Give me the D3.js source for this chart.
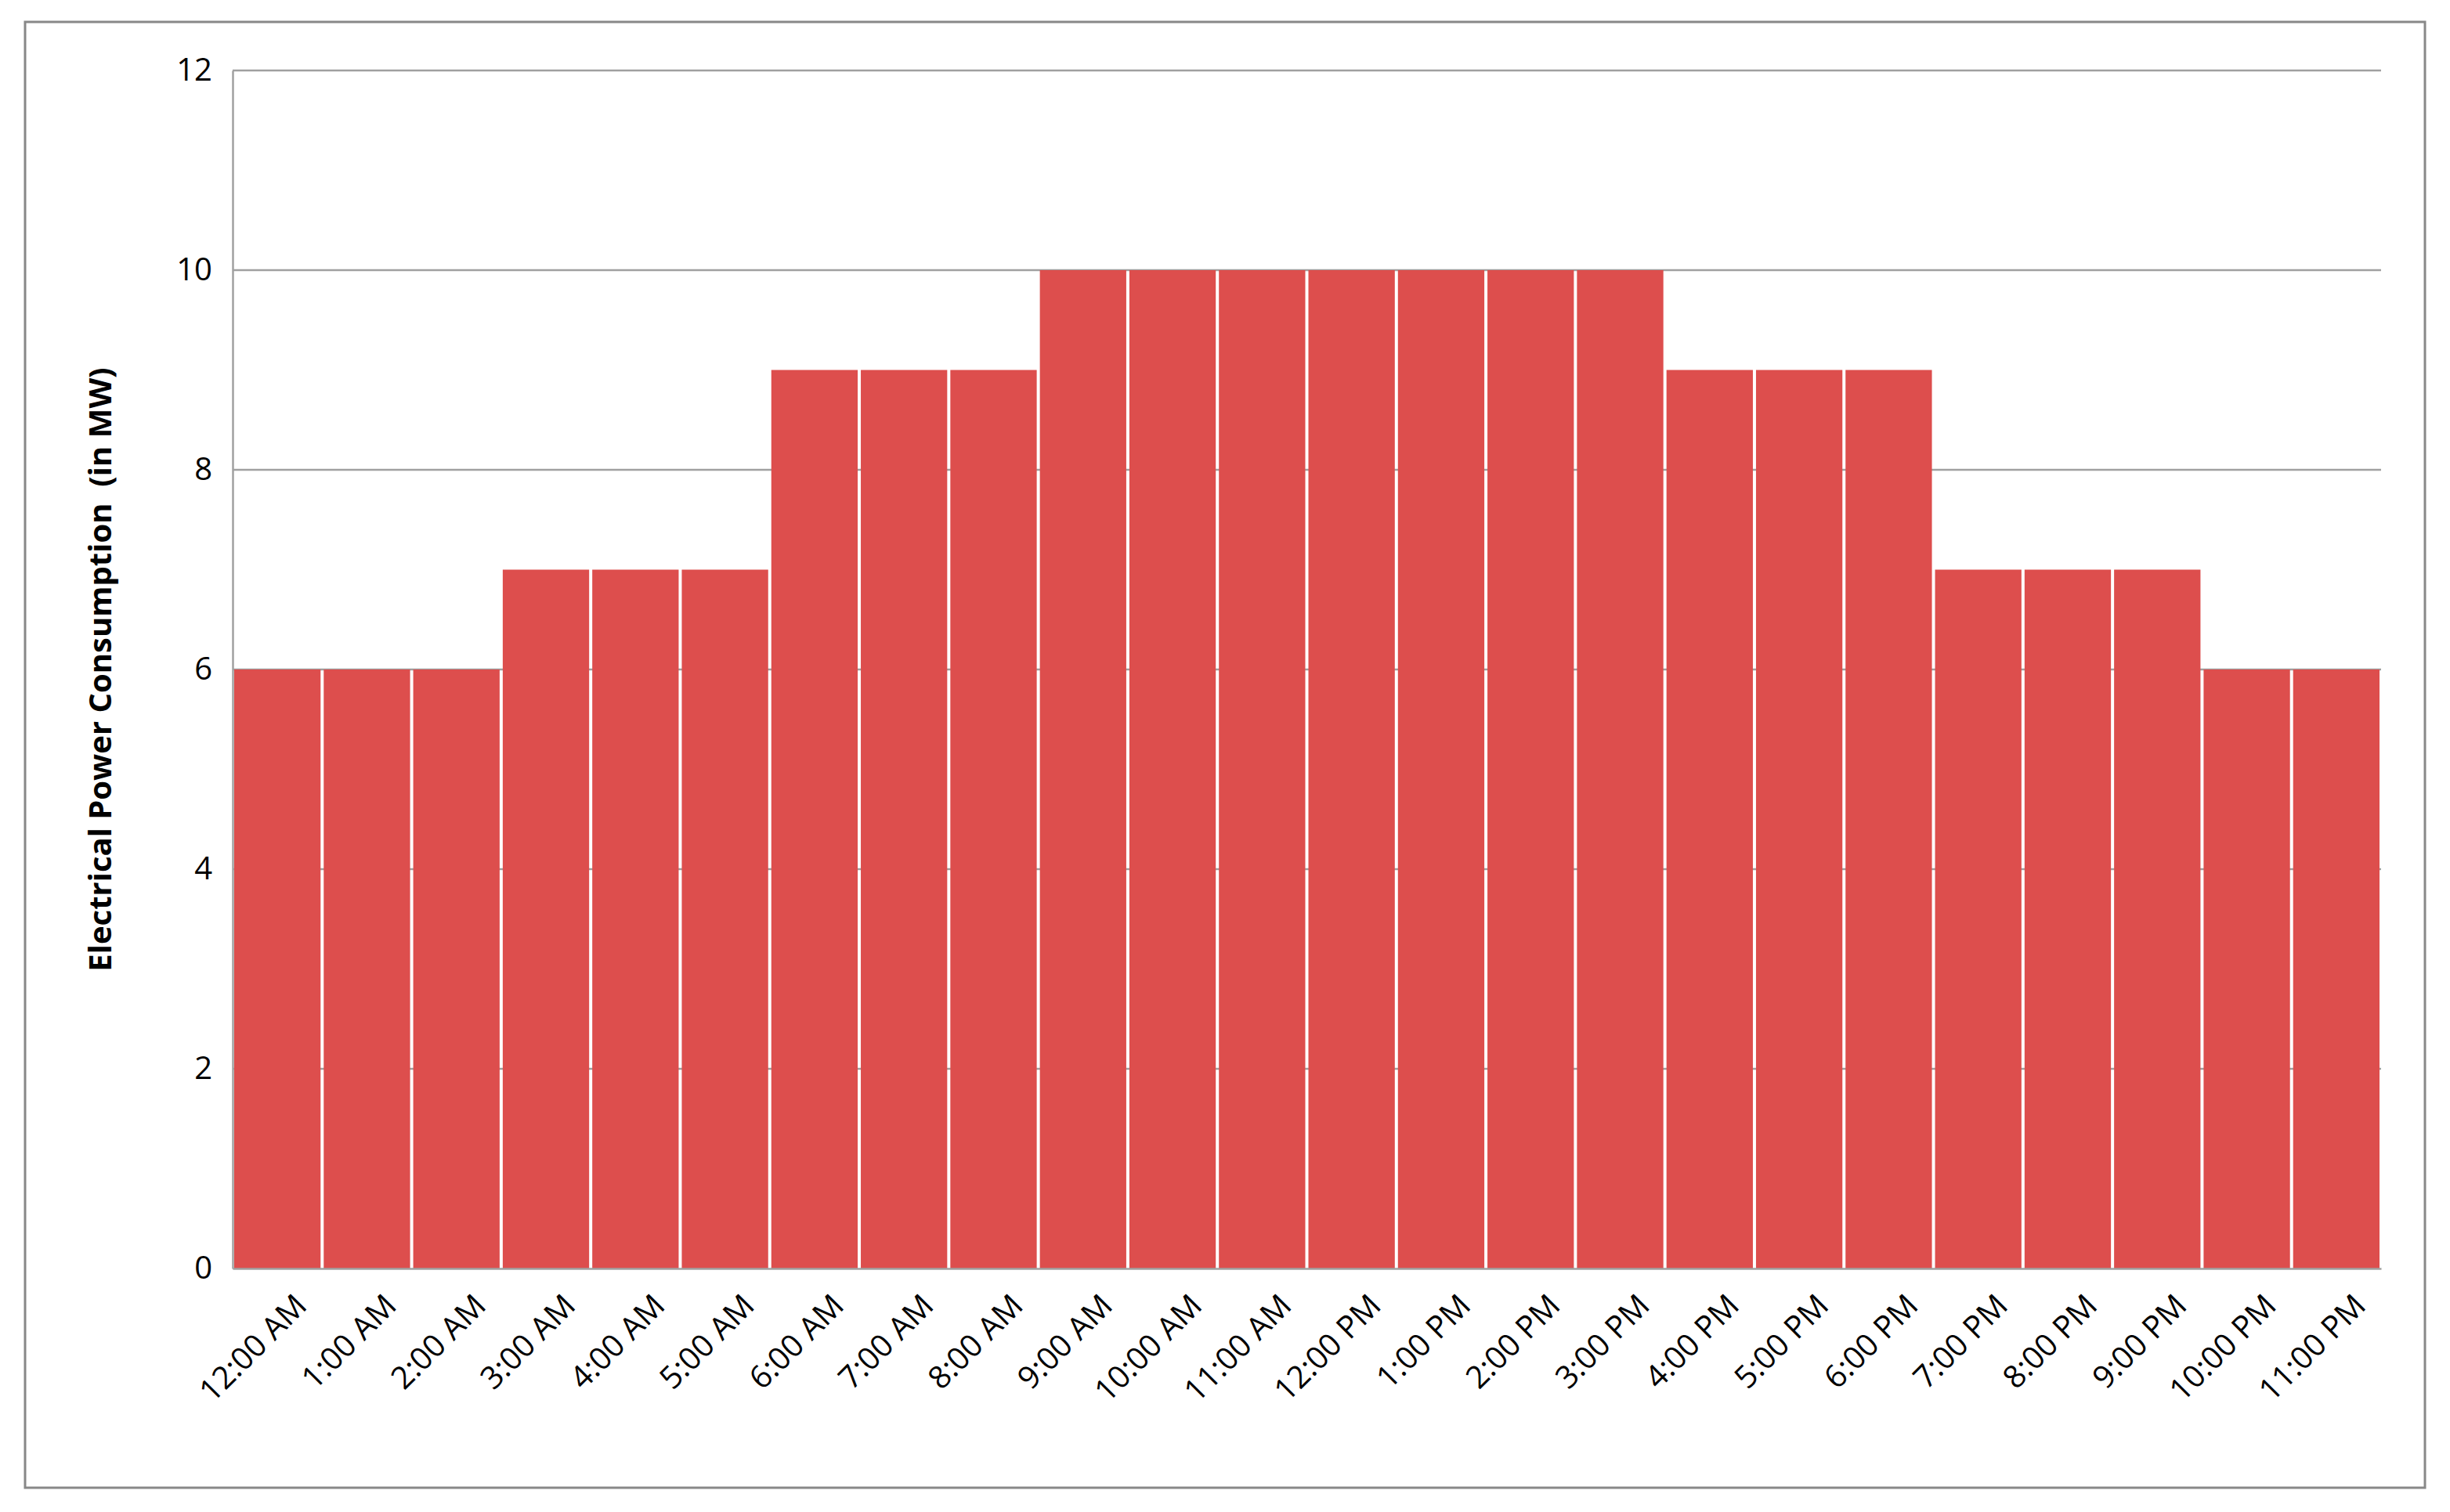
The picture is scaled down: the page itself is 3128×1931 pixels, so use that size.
<!DOCTYPE html>
<html>
<head>
<meta charset="utf-8">
<script src="https://cdn.jsdelivr.net/npm/d3@7"></script>
<style>
  body { margin: 0; background: #fff; }
  text { font-family: "Open Sans", "Liberation Sans", sans-serif; fill: #000; }
</style>
</head>
<body>
<div id="chart"></div>
<script>
// hours of the day
var hours = ["12:00 AM","1:00 AM","2:00 AM","3:00 AM","4:00 AM","5:00 AM","6:00 AM","7:00 AM","8:00 AM",
  "9:00 AM","10:00 AM","11:00 AM","12:00 PM","1:00 PM","2:00 PM","3:00 PM","4:00 PM","5:00 PM","6:00 PM",
  "7:00 PM","8:00 PM","9:00 PM","10:00 PM","11:00 PM"];
// consumption in MW
var consumption = [6,6,6,7,7,7,9,9,9,10,10,10,10,10,10,10,9,9,9,7,7,7,6,6];
var yTicks = [0,2,4,6,8,10,12];

var width = 3128, height = 1931;
var padding = {left: 297, right: 3128 - 3040, top: 90, bottom: 1931 - 1620};

var svg = d3.select("#chart").append("svg")
  .attr("width", width).attr("height", height);

// outer frame
svg.append("rect")
  .attr("x", 32).attr("y", 28).attr("width", 3064).attr("height", 1872)
  .attr("fill", "#fff").attr("stroke", "#888").attr("stroke-width", 3);

var xScale = d3.scaleBand().domain(hours)
  .range([padding.left, width - padding.right]).padding(0);
var yScale = d3.scaleLinear().domain([0, 12])
  .range([height - padding.bottom, padding.top]);

// gridlines
svg.append("g").selectAll("line").data(yTicks.filter(function(d){ return d > 0; }))
  .enter().append("line")
  .attr("x1", padding.left).attr("x2", width - padding.right)
  .attr("y1", function(d){ return yScale(d); })
  .attr("y2", function(d){ return yScale(d); })
  .attr("stroke", "#a0a0a0").attr("stroke-width", 2.5);

// bars
svg.append("g").selectAll("rect").data(consumption).enter().append("rect")
  .attr("x", function(d,i){ return xScale(hours[i]) + 2; })
  .attr("y", function(d){ return yScale(d); })
  .attr("width", xScale.bandwidth() - 4)
  .attr("height", function(d){ return yScale(0) - yScale(d); })
  .attr("fill", "#dd4e4d");

// y axis
var yAxis = d3.axisLeft(yScale).tickValues(yTicks).tickSize(0).tickPadding(26);
var gy = svg.append("g").attr("transform", "translate(" + padding.left + ",0)").call(yAxis);
gy.select(".domain").attr("stroke", "#a0a0a0").attr("stroke-width", 2.5);
gy.selectAll("text").attr("font-size", 40);

// x axis
var xAxis = d3.axisBottom(xScale).tickSize(0).tickSizeOuter(0);
var gx = svg.append("g").attr("transform", "translate(0," + yScale(0) + ")").call(xAxis);
gx.select(".domain").attr("stroke", "#a0a0a0").attr("stroke-width", 2.5);
gx.selectAll("text")
  .attr("font-size", 40)
  .attr("text-anchor", "end")
  .attr("dy", "0.35em")
  .attr("transform", "translate(30,40) rotate(-45)")
  .attr("y", 0);

// y title
svg.append("text")
  .attr("transform", "translate(142," + ((padding.top + yScale(0)) / 2) + ") rotate(-90)")
  .attr("text-anchor", "middle")
  .attr("font-size", 40).attr("font-weight", "bold")
  .attr("xml:space", "preserve")
  .text("Electrical Power Consumption  (in MW)");
</script>
</body>
</html>
